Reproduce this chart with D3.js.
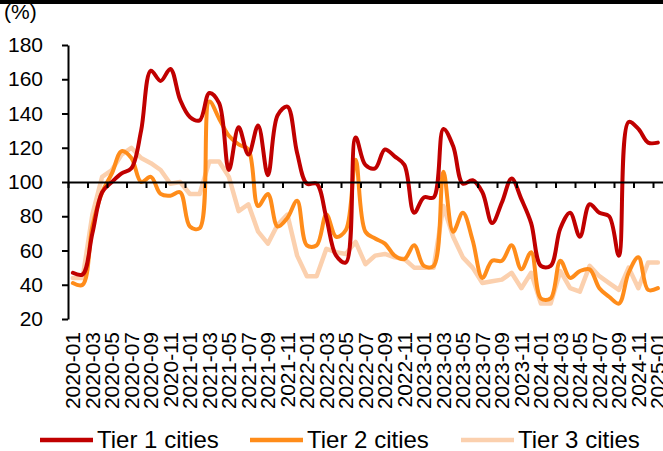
<!DOCTYPE html>
<html>
<head>
<meta charset="utf-8">
<script src="https://cdn.jsdelivr.net/npm/d3@7"></script>
<style>
  html, body { margin: 0; padding: 0; background: #fff; }
  svg { display: block; font-family: "Liberation Sans", Arial, sans-serif; }
</style>
</head>
<body>
<svg id="chart" width="663" height="451"></svg>
<script>
// ---- data ----
const months = [];
for (let yr = 2020; yr <= 2025; yr++) {
  for (let m = 1; m <= 12; m++) {
    if (yr === 2025 && m > 1) break;
    months.push(yr + "-" + String(m).padStart(2, "0"));
  }
}
const seriesNames = ["Tier 1 cities", "Tier 2 cities", "Tier 3 cities"];
const tier1 = [47, 46, 70, 94, 100, 105, 108, 130, 165, 159, 166, 148, 138, 136, 152, 146, 107, 132, 116, 133,
  104, 139, 144, 117, 99, 99, 79, 57, 53, 126, 110, 108, 119, 115, 110, 82, 91, 91, 131, 121,
  99, 101, 94, 76, 88, 102, 90, 76, 51, 51, 73, 82, 68, 87, 82, 80, 57, 135, 131, 123, 123];
const tier2 = [41, 40, 74, 94, 105, 118, 114, 100, 103, 93, 92, 94, 74, 73, 147, 137, 127, 122, 119, 86,
  93, 74, 79, 89, 63, 63, 81, 68, 72, 113, 71, 67, 64, 57, 55, 63, 51, 51, 106, 71,
  82, 66, 44, 54, 54, 63, 49, 59, 32, 32, 54, 44, 48, 49, 38, 33, 29, 47, 56, 37, 38];
const tier3 = [44, 44, 81, 103, 107, 116, 120, 114, 111, 107, 99, 100, 93, 93, 112, 112, 103, 83, 87, 71,
  64, 75, 81, 57, 45, 45, 61, 59, 58, 65, 52, 57, 58, 56, 55, 50, 50, 50, 86, 68,
  56, 50, 41, 42, 43, 47, 38, 47, 29, 29, 48, 38, 36, 51, 45, 41, 37, 50, 38, 53, 53];
const yTicks = [20, 40, 60, 80, 100, 120, 140, 160, 180];
const colors = ["#C00000", "#FF8C1A", "#FBD0AE"];

// ---- layout ----
const svg = d3.select("#chart");
const plotLeft = 68, plotRight = 662.75, plotTop = 45, plotBottom = 319;

const x = d3.scaleBand().domain(months).range([plotLeft, plotRight]).padding(0);
const xIdx = d3.scaleLinear().domain([0, months.length]).range([plotLeft, plotRight]);
const y = d3.scaleLinear().domain([20, 180]).range([plotBottom, plotTop]);
const cx = d => x(d) + x.bandwidth() / 2;

// top border
svg.append("rect").attr("x", 0).attr("y", 0).attr("width", 663).attr("height", 4).attr("fill", "#000");

// unit label
svg.append("text").attr("x", 4).attr("y", 19).attr("font-size", 21).attr("fill", "#000").text("(%)");

// y axis
const yAxis = svg.append("g").attr("transform", `translate(${plotLeft},0)`)
  .call(d3.axisLeft(y).tickValues(yTicks).tickSize(6).tickSizeOuter(0).tickPadding(19));
yAxis.select(".domain").attr("stroke", "#000").attr("stroke-width", 2);
yAxis.selectAll(".tick line").attr("stroke", "#000").attr("stroke-width", 2);
yAxis.selectAll(".tick text").attr("font-size", 21).attr("fill", "#000")
  .attr("font-family", "'Liberation Sans', Arial, sans-serif");

// series lines (tier 3 first so tier 1 sits on top)
const lineSmooth = d3.line().x((d, i) => cx(months[i])).y(d => y(d)).curve(d3.curveCatmullRom.alpha(0.5));
const lineStraight = d3.line().x((d, i) => cx(months[i])).y(d => y(d));
const series = [tier1, tier2, tier3];
const order = [2, 1, 0];
order.forEach(k => {
  svg.append("path")
    .datum(series[k])
    .attr("fill", "none")
    .attr("stroke", colors[k])
    .attr("stroke-width", k === 2 ? 4.5 : 4)
    .attr("stroke-linejoin", "round")
    .attr("stroke-linecap", "round")
    .attr("d", k === 2 ? lineStraight : lineSmooth);
});

// x axis line at 100 with ticks every 2 months at category boundaries
const xAxis = svg.append("g").attr("transform", `translate(0,${y(100)})`)
  .call(d3.axisBottom(xIdx).tickValues(d3.range(0, months.length, 2)).tickSize(6).tickSizeOuter(0).tickFormat(""));
xAxis.select(".domain").attr("stroke", "#000").attr("stroke-width", 2);
xAxis.selectAll(".tick line").attr("stroke", "#000").attr("stroke-width", 2);

// x labels at the bottom
const labelMonths = months.filter((d, i) => i % 2 === 0);
const xLab = svg.append("g").attr("transform", `translate(0,332)`)
  .call(d3.axisBottom(x).tickValues(labelMonths).tickSize(0).tickSizeOuter(0));
xLab.select(".domain").remove();
xLab.selectAll(".tick text")
  .attr("font-size", 21).attr("fill", "#000")
  .attr("font-family", "'Liberation Sans', Arial, sans-serif")
  .attr("x", 0).attr("y", 0).attr("dy", "0.35em")
  .attr("text-anchor", "end")
  .attr("transform", "rotate(-90)");

// legend
const legendX = [40, 250, 461];
const leg = svg.append("g");
seriesNames.forEach((name, k) => {
  leg.append("line").attr("x1", legendX[k]).attr("x2", legendX[k] + 53)
    .attr("y1", 440).attr("y2", 440).attr("stroke", colors[k]).attr("stroke-width", 4.5);
  leg.append("text").attr("x", legendX[k] + 57).attr("y", 448)
    .attr("font-size", 24).attr("fill", "#000").text(name);
});
</script>
</body>
</html>
